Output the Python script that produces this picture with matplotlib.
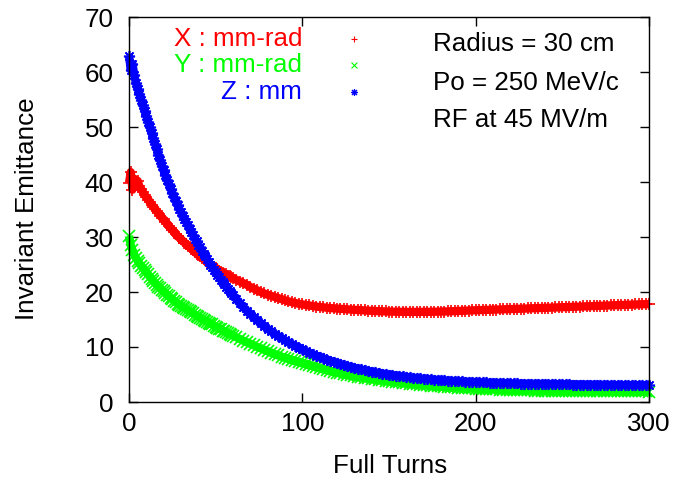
import matplotlib
matplotlib.use("Agg")
import matplotlib.pyplot as plt

plt.rcParams["font.family"] = ["Liberation Sans", "DejaVu Sans"]
plt.rcParams["font.size"] = 18.7

# turn index: every turn up to 59, then every second turn to 300
TURNS = list(range(0, 60)) + list(range(60, 301, 2))

X_EMIT = [
    39.8, 41.8, 38.6, 40.6, 39.4, 40.2, 39.2, 38.7, 38.2, 37.7,
    37.2, 36.8, 36.4, 35.9, 35.5, 35.1, 34.7, 34.3, 33.9, 33.5,
    33.2, 32.8, 32.4, 32.0, 31.6, 31.3, 30.9, 30.5, 30.1, 29.9,
    29.6, 29.3, 29.0, 28.7, 28.4, 28.2, 27.9, 27.6, 27.3, 27.0,
    26.7, 26.5, 26.2, 26.0, 25.8, 25.5, 25.3, 25.0, 24.8, 24.6,
    24.4, 24.1, 23.9, 23.7, 23.5, 23.35, 23.2, 23.0, 22.85, 22.7,
    # t = 60 .. 300 step 2
    22.55, 22.2, 21.9, 21.6, 21.3, 20.9, 20.6, 20.3, 20.0, 19.75,
    19.5, 19.3, 19.1, 18.9, 18.7, 18.5, 18.3, 18.15, 18.0, 17.85,
    17.75, 17.65, 17.55, 17.45, 17.35, 17.28, 17.2, 17.14, 17.08, 17.03,
    16.98, 16.94, 16.9, 16.85, 16.8, 16.76, 16.72, 16.68, 16.64, 16.6,
    16.57, 16.54, 16.51, 16.48, 16.46, 16.44, 16.42, 16.41, 16.4, 16.39,
    16.38, 16.38, 16.38, 16.38, 16.39, 16.39, 16.4, 16.4, 16.41, 16.42,
    16.43, 16.45, 16.47, 16.5, 16.53, 16.56, 16.58, 16.61, 16.63, 16.66,
    16.68, 16.71, 16.73, 16.75, 16.77, 16.79, 16.81, 16.83, 16.85, 16.87,
    16.9, 16.92, 16.94, 16.96, 16.99, 17.01, 17.03, 17.05, 17.08, 17.1,
    17.12, 17.14, 17.16, 17.19, 17.21, 17.23, 17.26, 17.28, 17.31, 17.33,
    17.35, 17.38, 17.4, 17.42, 17.45, 17.47, 17.49, 17.52, 17.54, 17.56,
    17.59, 17.61, 17.63, 17.66, 17.68, 17.7, 17.73, 17.75, 17.77, 17.8,
    17.82,
]

Y_EMIT = [
    30.2, 28.5, 27.6, 26.8, 26.2, 25.7, 25.2, 24.8, 24.4, 24.0,
    23.6, 23.2, 22.8, 22.4, 22.0, 21.7, 21.3, 21.0, 20.7, 20.4,
    20.1, 19.8, 19.5, 19.2, 18.9, 18.7, 18.4, 18.1, 17.9, 17.7,
    17.5, 17.3, 17.1, 16.9, 16.7, 16.5, 16.3, 16.1, 15.9, 15.7,
    15.5, 15.3, 15.1, 14.95, 14.8, 14.6, 14.4, 14.25, 14.1, 13.9,
    13.7, 13.5, 13.35, 13.2, 13.0, 12.85, 12.7, 12.5, 12.35, 12.2,
    # t = 60 .. 300 step 2
    12.05, 11.75, 11.45, 11.15, 10.85, 10.6, 10.3, 10.0, 9.75, 9.5,
    9.2, 8.95, 8.7, 8.5, 8.25, 8.05, 7.85, 7.65, 7.45, 7.25,
    7.05, 6.85, 6.65, 6.5, 6.3, 6.15, 5.95, 5.8, 5.65, 5.5,
    5.35, 5.2, 5.1, 4.95, 4.85, 4.7, 4.6, 4.5, 4.4, 4.3,
    4.2, 4.1, 4.0, 3.95, 3.85, 3.8, 3.7, 3.62, 3.55, 3.48,
    3.42, 3.35, 3.28, 3.22, 3.16, 3.1, 3.04, 2.98, 2.92, 2.87,
    2.82, 2.77, 2.72, 2.68, 2.64, 2.6, 2.56, 2.53, 2.5, 2.47,
    2.44, 2.41, 2.38, 2.35, 2.33, 2.3, 2.28, 2.26, 2.24, 2.22,
    2.2, 2.18, 2.16, 2.14, 2.13, 2.11, 2.1, 2.08, 2.07, 2.06,
    2.05, 2.04, 2.03, 2.02, 2.01, 2.0, 1.99, 1.99, 1.98, 1.98,
    1.97, 1.97, 1.96, 1.96, 1.95, 1.95, 1.95, 1.94, 1.94, 1.94,
    1.93, 1.93, 1.93, 1.92, 1.92, 1.92, 1.92, 1.91, 1.91, 1.91,
    1.9,
]

Z_EMIT = [
    63.0, 60.4, 61.5, 59.5, 58.0, 57.0, 56.0, 55.0, 54.0, 53.0,
    52.0, 51.0, 50.0, 49.0, 48.0, 47.0, 46.0, 45.0, 44.0, 43.0,
    42.1, 41.2, 40.4, 39.6, 38.8, 38.0, 37.2, 36.5, 35.8, 35.1,
    34.5, 33.9, 33.3, 32.7, 32.1, 31.5, 30.9, 30.3, 29.7, 29.2,
    28.6, 28.1, 27.5, 27.0, 26.5, 26.0, 25.5, 25.0, 24.5, 24.05,
    23.6, 23.15, 22.7, 22.25, 21.8, 21.4, 21.0, 20.6, 20.2, 19.8,
    # t = 60 .. 300 step 2
    19.4, 18.65, 17.95, 17.25, 16.6, 16.0, 15.4, 14.85, 14.3, 13.8,
    13.3, 12.85, 12.4, 12.0, 11.6, 11.2, 10.85, 10.5, 10.2, 9.9,
    9.55, 9.25, 8.97, 8.7, 8.44, 8.19, 7.95, 7.72, 7.5, 7.29,
    7.09, 6.9, 6.72, 6.54, 6.37, 6.21, 6.06, 5.92, 5.78, 5.65,
    5.52, 5.4, 5.29, 5.18, 5.08, 4.98, 4.89, 4.8, 4.72, 4.64,
    4.56, 4.49, 4.42, 4.35, 4.29, 4.23, 4.17, 4.12, 4.07, 4.02,
    3.97, 3.93, 3.89, 3.85, 3.81, 3.78, 3.74, 3.71, 3.68, 3.65,
    3.62, 3.6, 3.57, 3.55, 3.52, 3.5, 3.48, 3.46, 3.44, 3.42,
    3.4, 3.39, 3.37, 3.36, 3.34, 3.33, 3.31, 3.3, 3.29, 3.28,
    3.26, 3.25, 3.24, 3.23, 3.22, 3.21, 3.2, 3.19, 3.18, 3.17,
    3.17, 3.16, 3.15, 3.14, 3.14, 3.13, 3.12, 3.12, 3.11, 3.11,
    3.1, 3.1, 3.09, 3.09, 3.08, 3.08, 3.07, 3.07, 3.06, 3.06,
    3.05,
]

SERIES_LABELS = ["X : mm-rad", "Y : mm-rad", "Z : mm"]
SERIES_COLORS = ["#ff0000", "#00ff00", "#0000ff"]
SERIES_MARKERS = ["+", "x", (8, 2, 0)]
INFO_LINES = ["Radius = 30 cm", "Po = 250 MeV/c", "RF at 45 MV/m"]

W, H = 673, 478
fig = plt.figure(figsize=(W / 100, H / 100), dpi=100)
ax = fig.add_axes([129 / W, 76 / H, 520 / W, 385 / H])

# points are so dense they merge into a thick band: draw a wide
# stroke through them and the point symbols on top for the ragged edge
for values, color, marker in zip([X_EMIT, Y_EMIT, Z_EMIT], SERIES_COLORS, SERIES_MARKERS):
    ax.plot(TURNS, values, linestyle="-", linewidth=6.0, color=color,
            solid_capstyle="butt", clip_on=False)
    ax.plot(TURNS, values, linestyle="none", marker=marker, markersize=8,
            markeredgewidth=1.2, color=color, clip_on=False)

ax.set_xlim(0, 300)
ax.set_ylim(0, 70)
ax.set_xticks([0, 100, 200, 300])
ax.set_yticks(range(0, 71, 10))
ax.tick_params(direction="in", length=6.5, width=1, top=True, right=True,
               labelsize=18.7, pad=7)
ax.tick_params(axis="y", pad=11)
for spine in ax.spines.values():
    spine.set_linewidth(1)

fig.text(27 / W, 1 - 209 / H, "Invariant Emittance", rotation=90,
         ha="center", va="center")
fig.text(390 / W, 1 - 466 / H, "Full Turns", ha="center", va="center")

# key: coloured text on the left, sample marker to its right
key_rows = [0.943, 0.875, 0.805]
for label, color, marker, ky in zip(SERIES_LABELS, SERIES_COLORS, SERIES_MARKERS, key_rows):
    ax.text(0.333, ky, label, color=color, ha="right", va="center",
            transform=ax.transAxes)
    ax.plot([0.433], [ky], linestyle="none", marker=marker, markersize=5,
            markeredgewidth=0.8, color=color, transform=ax.transAxes)

for line, ky in zip(INFO_LINES, [0.930, 0.829, 0.732]):
    ax.text(0.585, ky, line, ha="left", va="center", transform=ax.transAxes)

fig.savefig("out.png", dpi=100)
